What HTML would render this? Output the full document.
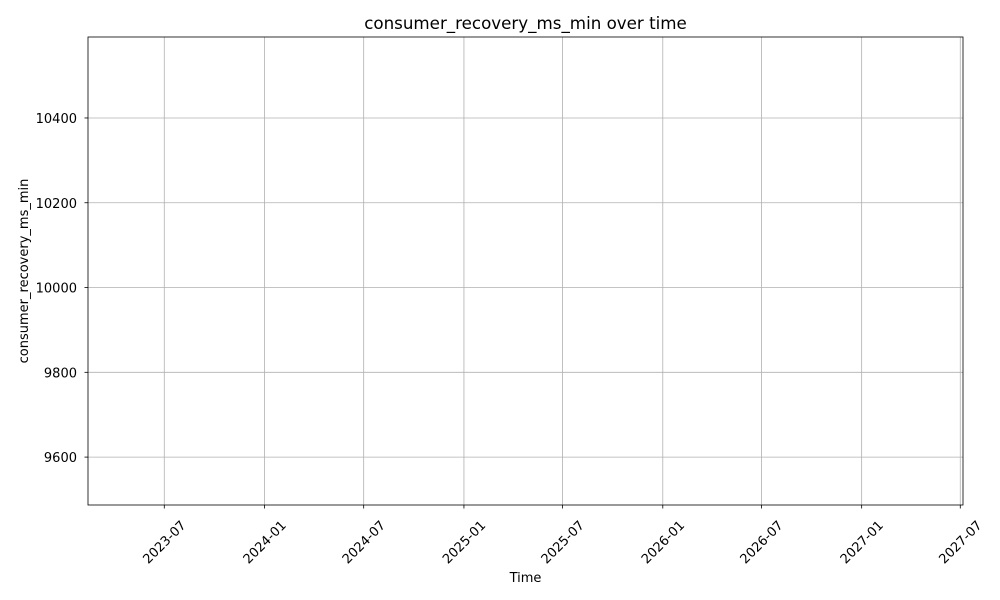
<!DOCTYPE html>
<html><head><meta charset="utf-8"><style>
html,body{margin:0;padding:0;background:#fff;}
svg{display:block;font-family:"DejaVu Sans","Liberation Sans",sans-serif;}
</style></head><body>
<svg id="chart" width="1000" height="600"></svg>
<script>
const xTickLabels = ["2023-07","2024-01","2024-07","2025-01","2025-07","2026-01","2026-07","2027-01","2027-07"];
const yTickValues = [9600,9800,10000,10200,10400];
const seriesDates = [];
const seriesValues = [];
const xDomain = ["2023-02-11","2027-07-06"];
const yDomain = [9487,10591];

const L=88,R=963,T=37,B=505;
const ns="http://www.w3.org/2000/svg";
const svg=document.getElementById('chart');
const t=s=>Date.parse(s.length===7?s+"-01":s);
const x0=t(xDomain[0]),x1=t(xDomain[1]);
const xs=d=>L+(t(d)-x0)/(x1-x0)*(R-L);
const ys=v=>B-(v-yDomain[0])/(yDomain[1]-yDomain[0])*(B-T);
function mk(tag,attrs,parent){const e=document.createElementNS(ns,tag);for(const k in attrs)e.setAttribute(k,attrs[k]);(parent||svg).appendChild(e);return e;}

const grid=mk('g',{});


xTickLabels.forEach(l=>{const x=xs(l);
  const g=mk('line',{x1:x,x2:x,y1:T,y2:B,stroke:'#b0b0b0','stroke-width':0.8},grid);
  
  
  mk('line',{x1:x,x2:x,y1:B,y2:B+3.5,stroke:'#000','stroke-width':0.8});
  const cy=B+37;
  const tx=mk('text',{x:x,y:cy+4.5,'font-size':13,'text-anchor':'middle',transform:`rotate(-45 ${x} ${cy})`});
  tx.textContent=l;
  
  
});
yTickValues.forEach(v=>{const y=ys(v);
  const g=mk('line',{x1:L,x2:R,y1:y,y2:y,stroke:'#b0b0b0','stroke-width':0.8},grid);
  
  
  mk('line',{x1:L-3.5,x2:L,y1:y,y2:y,stroke:'#000','stroke-width':0.8});
  const tx=mk('text',{x:L-11,y:y+5,'font-size':13,'text-anchor':'end'});
  tx.textContent=v;
  
  
});
if(seriesDates.length){
  const p=mk('polyline',{points:seriesDates.map((d,i)=>xs(d)+','+ys(seriesValues[i])).join(' '),fill:'none',stroke:'#1f77b4','stroke-width':1.5});
  
  
}
const fr=mk('rect',{x:L,y:T,width:R-L,height:B-T,fill:'none',stroke:'#000','stroke-width':0.8});


const ti=mk('text',{x:(L+R)/2,y:29,'font-size':16.7,'text-anchor':'middle'});
ti.textContent='consumer_recovery_ms_min over time';


const xt=mk('text',{x:(L+R)/2,y:582,'font-size':13,'text-anchor':'middle'});
xt.textContent='Time';


const yt=mk('text',{x:0,y:0,'font-size':13,'text-anchor':'middle',transform:`translate(28 ${(T+B)/2}) rotate(-90)`});
yt.textContent='consumer_recovery_ms_min';


</script>
</body></html>
